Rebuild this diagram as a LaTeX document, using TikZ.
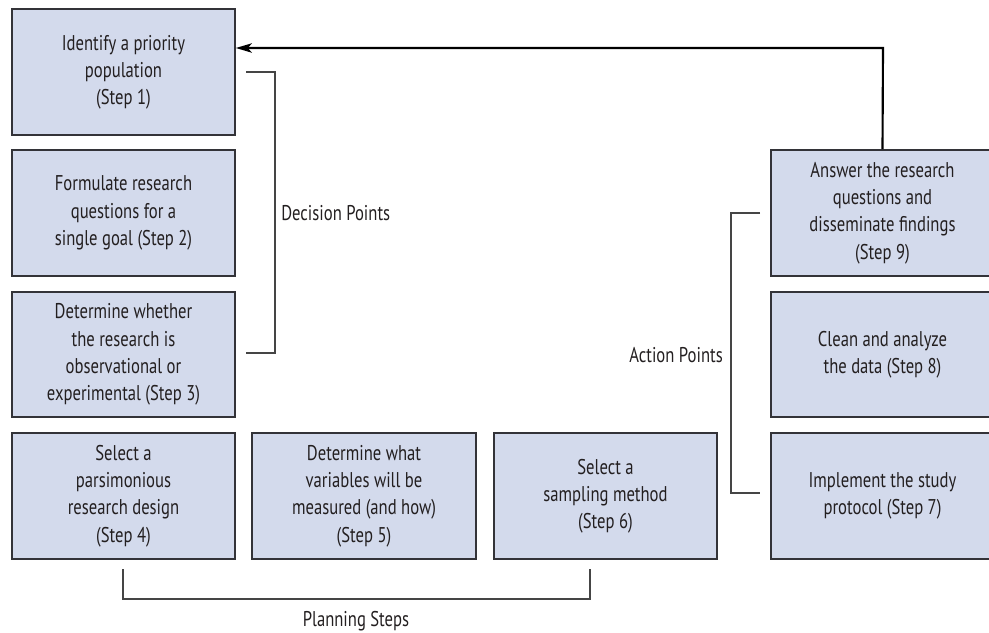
\documentclass[tikz,border=0pt]{standalone}
\usepackage{fontspec}
\setmainfont[FakeStretch=0.78]{PT Sans}
\usetikzlibrary{arrows.meta}
\definecolor{boxfill}{HTML}{D3DAEC}
\definecolor{boxedge}{HTML}{333338}
\definecolor{brk}{HTML}{454545}
\definecolor{txt}{HTML}{231F20}
\tikzset{
  stepbox/.style={draw=boxedge, fill=boxfill, line width=1.2pt, align=center,
    inner sep=0pt, font=\fontsize{16}{20.4}\selectfont, text=txt},
  brackline/.style={draw=brk, line width=0.8pt},
  lbl/.style={font=\fontsize{16}{20.4}\selectfont, text=txt, inner sep=0pt},
}
\begin{document}
\begin{tikzpicture}[x=0.75pt,y=-0.75pt]
\useasboundingbox (0,0) rectangle (989,632);
\begin{scope}
\clip (0,0) rectangle (989,632);
\node[stepbox, minimum width=223*0.75pt, minimum height=126*0.75pt] (s1) at (123.5,72) {Identify a priority\\population\\(Step 1)};
\node[stepbox, minimum width=223*0.75pt, minimum height=126*0.75pt] (s2) at (123.5,213) {Formulate research\\questions for a\\single goal (Step 2)};
\node[stepbox, minimum width=223*0.75pt, minimum height=125*0.75pt] (s3) at (123.5,354.5) {Determine whether\\the research is\\observational or\\experimental (Step 3)};
\node[stepbox, minimum width=223*0.75pt, minimum height=126*0.75pt] (s4) at (123.5,496) {Select a\\parsimonious\\research design\\(Step 4)};
\node[stepbox, minimum width=224*0.75pt, minimum height=126*0.75pt] (s5) at (364,496) {Determine what\\variables will be\\measured (and how)\\(Step 5)};
\node[stepbox, minimum width=223*0.75pt, minimum height=126*0.75pt] (s6) at (605.5,496) {Select a\\sampling method\\(Step 6)};
\node[stepbox, minimum width=223*0.75pt, minimum height=126*0.75pt] (s7) at (882.5,496) {Implement the study\\protocol (Step 7)};
\node[stepbox, minimum width=223*0.75pt, minimum height=125*0.75pt] (s8) at (882.5,354.5) {Clean and analyze\\the data (Step 8)};
\node[stepbox, minimum width=223*0.75pt, minimum height=126*0.75pt] (s9) at (882.5,213) {Answer the research\\questions and\\disseminate findings\\(Step 9)};
\end{scope}

% feedback arrow
\coordinate (bend) at (883,48);
\draw[line width=1.6pt, -{Stealth[length=12pt,width=7pt,inset=3pt]}] (s9.north) -- (bend) -- (s1.east |- bend);

% decision bracket
\coordinate (d1) at (246,72);
\coordinate (d2) at (275,72);
\coordinate (d3) at (275,353);
\coordinate (d4) at (246,353);
\draw[brackline] (d1) -- (d2) -- (d3) -- (d4);
\node[lbl, anchor=west] (dec) at (281,213) {Decision Points};

% action bracket
\coordinate (a1) at (760,213);
\coordinate (a2) at (731,213);
\coordinate (a3) at (731,493);
\coordinate (a4) at (760,493);
\draw[brackline] (a1) -- (a2) -- (a3) -- (a4);
\node[lbl, anchor=east] (act) at (723,355) {Action Points};

% planning bracket
\coordinate (p1) at (123,569);
\coordinate (p2) at (123,599);
\coordinate (p3) at (590,599);
\coordinate (p4) at (590,569);
\draw[brackline] (p1) -- (p2) -- (p3) -- (p4);
\node[lbl] (plan) at (356,621) {Planning Steps};
\end{tikzpicture}
\end{document}
